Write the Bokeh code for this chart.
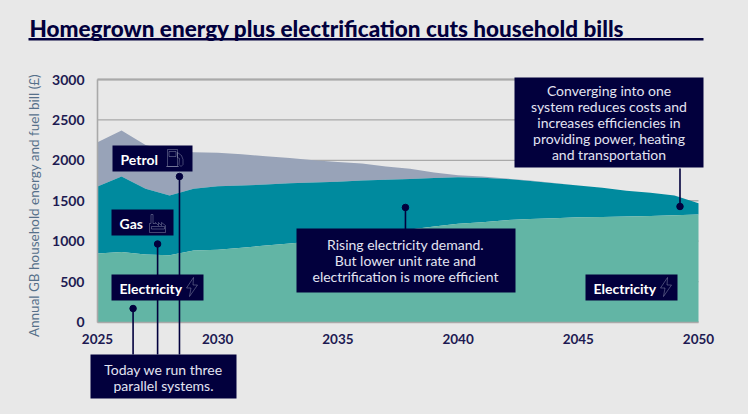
from bokeh.embed import file_html
from bokeh.resources import INLINE
from bokeh.plotting import figure
from bokeh.models import (ColumnDataSource, Label, BoxAnnotation, PolyAnnotation, Arrow,
                          FixedTicker, LinearAxis)

# ---- data ----
years = list(range(2025, 2051))
electricity = [848, 866, 835, 825, 885, 895, 920, 945, 970, 1000, 1035, 1075, 1110, 1145, 1180,
               1215, 1235, 1260, 1275, 1285, 1295, 1300, 1305, 1310, 1320, 1330]
gas_top = [1677, 1800, 1650, 1565, 1650, 1680, 1690, 1700, 1715, 1725, 1735, 1750, 1760, 1770, 1780,
           1790, 1785, 1770, 1745, 1715, 1690, 1660, 1625, 1600, 1565, 1470]
petrol_top = [2225, 2370, 2190, 2120, 2100, 2095, 2075, 2050, 2030, 2000, 1980, 1960, 1925, 1895, 1850,
              1815, 1800, 1775, 1750, 1720, 1690, 1660, 1625, 1600, 1565, 1470]
x_ticks = [2025, 2030, 2035, 2040, 2045, 2050]
y_ticks = [0, 500, 1000, 1500, 2000, 2500, 3000]
callout_x = [2026.48, 2027.5, 2028.41, 2037.81, 2049.23]
callout_y = [167, 965, 1800, 1417, 1429]
callout_end = [-402, -402, -402, 1150, 1900]

title = "Homegrown energy plus electrification cuts household bills"
y_title = "Annual GB household energy and fuel bill (£)"

# ---- colours ----
BG = "#e8e8e8"; NAVY = "#02003d"; TICK = "#1d1a52"; GRID = "#a9a9a9"
C_PETROL = "#98a3b8"; C_GAS = "#008a9e"; C_ELEC = "#62b5a5"; YLAB = "#56708a"
BOXTXT = "#e3e4f2"; FONT = "Lato"

# ---- layout: the frame fills the page; the plot rectangle sits inside it ----
W, H = 748, 414
PL, PR, PT, PB = 97.0, 698.0, 79.0, 321.5
sx = (PR - PL) / 25.0
sy = (PB - PT) / 3000.0

src = ColumnDataSource(dict(x=years, zero=[0] * len(years), elec=electricity, gas=gas_top, pet=petrol_top))

p = figure(width=W, height=H, output_backend="svg", toolbar_location=None,
           x_range=(2025 - PL / sx, 2025 + (W - PL) / sx),
           y_range=(-(H - PB) / sy, 3000 + PT / sy),
           x_axis_location=None, y_axis_location=None,
           min_border=0, min_border_left=0, min_border_right=0, min_border_top=0, min_border_bottom=0,
           background_fill_color=BG, border_fill_color=BG, outline_line_color=None)
p.grid.visible = False

# horizontal guide lines limited to the plot rectangle
p.segment(x0=[x_ticks[0]] * len(y_ticks), x1=[x_ticks[-1]] * len(y_ticks), y0=y_ticks, y1=y_ticks,
          line_color=GRID, line_width=1.3)
p.segment(x0=[x_ticks[0]], x1=[x_ticks[-1]], y0=[y_ticks[-1]], y1=[y_ticks[-1]],
          line_color=GRID, line_width=1.8)

p.varea(x="x", y1="gas", y2="pet", source=src, fill_color=C_PETROL)
p.varea(x="x", y1="elec", y2="gas", source=src, fill_color=C_GAS)
p.varea(x="x", y1="zero", y2="elec", source=src, fill_color=C_ELEC)

xax = LinearAxis(fixed_location=0, bounds=(2025, 2050), ticker=FixedTicker(ticks=x_ticks))
yax = LinearAxis(fixed_location=2025, bounds=(0, 3000), ticker=FixedTicker(ticks=y_ticks))
for ax in (xax, yax):
    ax.major_tick_line_color = None
    ax.minor_tick_line_color = None
    ax.axis_line_color = GRID
    ax.axis_line_width = 1.6
    ax.major_label_text_font = FONT
    ax.major_label_text_font_size = "14px"
    ax.major_label_text_font_style = "bold"
    ax.major_label_text_color = TICK
xax.major_label_text_font_size = "13.5px"
xax.major_label_standoff = 6
yax.major_label_standoff = 7
p.add_layout(xax, "below")
p.add_layout(yax, "left")


def label(cx, cy, text, size="14px", color=BOXTXT, style="normal", align="center", angle=0.0, font=FONT):
    p.add_layout(Label(x=cx, y=cy, x_units="canvas", y_units="canvas", text=text,
                       text_font=font, text_font_size=size, text_color=color, text_font_style=style,
                       text_align=align, text_baseline="middle", angle=angle))


def box(l, t, r, b):
    p.add_layout(BoxAnnotation(left=l, right=r, top=t, bottom=b,
                               left_units="canvas", right_units="canvas",
                               top_units="canvas", bottom_units="canvas",
                               fill_color=NAVY, fill_alpha=1, line_color=None))


def icon(ox, oy, pts):
    p.add_layout(PolyAnnotation(xs=[ox + a for a, _ in pts], ys=[oy + b for _, b in pts],
                                xs_units="canvas", ys_units="canvas",
                                fill_alpha=0, line_color="#dfe3f0", line_width=1))


# leaders and dots
for cx, cy, ce in zip(callout_x, callout_y, callout_end):
    p.add_layout(Arrow(end=None, x_start=cx, y_start=cy, x_end=cx, y_end=ce,
                       line_color=NAVY, line_width=1.6))
p.scatter(callout_x, callout_y, size=6.5, color=NAVY)

# boxes
box(112, 145, 192, 171)
box(111, 209, 173, 235)
box(111, 274, 203, 300)
box(585, 274, 677, 300)
box(90, 354, 236, 398)
box(514, 77, 703, 167)
box(296, 228, 515, 292)

# short labels
label(120, 158.5, "Petrol", "14px", "#ffffff", "bold", "left")
label(119, 222.5, "Gas", "14px", "#ffffff", "bold", "left")
label(119, 287.5, "Electricity", "14px", "#ffffff", "bold", "left")
label(593, 287.5, "Electricity", "14px", "#ffffff", "bold", "left")

# paragraphs
for i, t in enumerate(["Today we run three", "parallel systems."]):
    label(163, 368.5 + i * 16, t, "14px")
for i, t in enumerate(["Converging into one", "system reduces costs and", "increases efficiencies in",
                       "providing power, heating", "and transportation"]):
    label(608.5, 90 + i * 16, t, "14px")
for i, t in enumerate(["Rising electricity demand.", "But lower unit rate and", "electrification is more efficient"]):
    label(405, 244 + i * 16, t, "14px")

# icons
bolt = [(7, 0), (0, 10.5), (4.5, 10.5), (3, 19), (11, 7.5), (6.5, 7.5)]
icon(186, 277, bolt)
icon(660, 277, bolt)
# pump
icon(167, 149, [(0, 0), (10, 0), (10, 17), (0, 17)])
icon(168.5, 151, [(0, 0), (7, 0), (7, 5), (0, 5)])
icon(165.5, 166, [(0, 0), (13, 0)])
icon(177, 152, [(0, 0), (4, 3), (5.5, 7), (5.5, 12), (3.5, 14), (1.5, 12), (2, 6), (0, 5)])
# factory
icon(149, 213, [(1.5, 10), (1.5, 1), (3.5, 1), (3.5, 10), (6, 10), (6, 9), (9, 12), (9, 9), (12, 12), (12, 9),
                (16, 12), (16, 19), (0, 19), (0, 10)])
icon(151, 226, [(0, 0), (13, 0), (13, 2.5), (0, 2.5)])

# title and rule
label(29, 27.5, title, "22.5px", NAVY, "normal", "left", font="Lato Black")
box(28, 37.5, 703, 40)
# y title
label(33.5, 205, y_title, "13.5px", YLAB, "normal", "center", 1.5708)

html = file_html(p, INLINE)
html = html.replace("<head>", "<head><style>html,body{background:#e8e8e8;}</style>", 1)
open("out.html", "w").write(html)
